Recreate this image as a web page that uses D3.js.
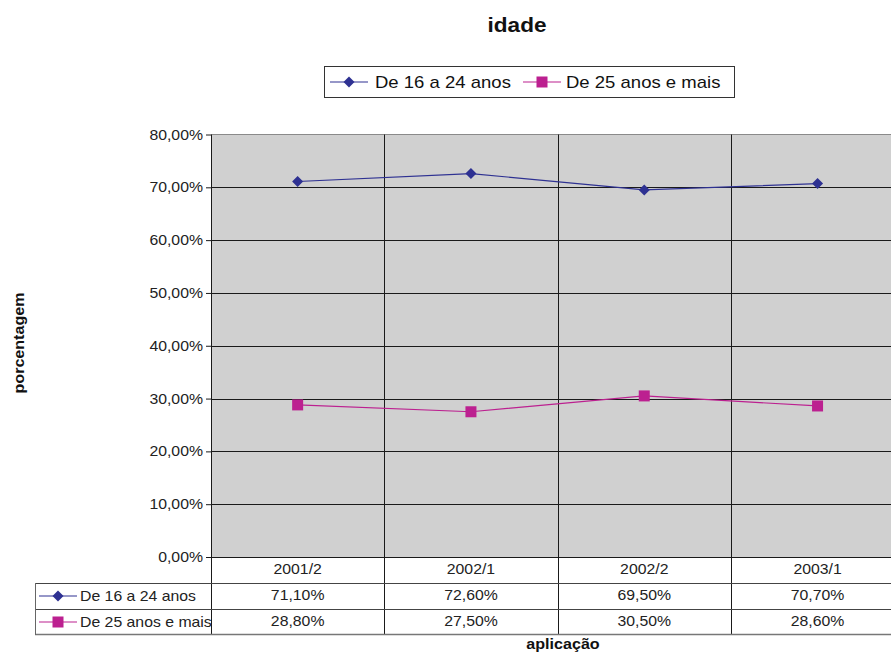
<!DOCTYPE html>
<html>
<head>
<meta charset="utf-8">
<script src="https://cdn.jsdelivr.net/npm/d3@7"></script>
<style>
  html, body { margin: 0; padding: 0; background: #fff; }
  svg { display: block; font-family: "Liberation Sans", Arial, sans-serif; }
</style>
</head>
<body>
<svg id="chart" width="891" height="652"></svg>
<script>
// Age groups by application period
const categories = ["2001/2", "2002/1", "2002/2", "2003/1"];
const seriesNames = ["De 16 a 24 anos", "De 25 anos e mais"];
const young = [71.1, 72.6, 69.5, 70.7];
const older = [28.8, 27.5, 30.5, 28.6];
const yTicks = [0, 10, 20, 30, 40, 50, 60, 70, 80];

const colors = ["#2e3192", "#bc2090"];
const svg = d3.select("#chart");

const plot = { left: 211, right: 903, top: 134.5, bottom: 557 };
const rowH = 26;
const WIDE = 1.13; // horizontal stretch of the lettering

const x = d3.scaleBand().domain(categories).range([plot.left, 211 + 173.3 * 4]).paddingInner(0).paddingOuter(0);
const y = d3.scaleLinear().domain([0, 80]).range([plot.bottom, plot.top]);
const fmt = v => d3.format(".2f")(v).replace(".", ",") + "%";

// text helper: places a label at (tx, ty) widened horizontally
function label(parent, tx, ty, str, opts = {}) {
  const t = parent.append("text")
    .attr("transform", `translate(${tx},${ty}) ${opts.rotate ? "rotate(" + opts.rotate + ")" : ""} scale(${opts.sx || WIDE},1)`)
    .attr("text-anchor", opts.anchor || "start")
    .attr("font-size", opts.size || 14)
    .attr("font-weight", opts.weight || "normal")
    .attr("fill", opts.fill || "#222")
    .text(str);
  return t;
}

// plot background
svg.append("rect")
  .attr("x", plot.left).attr("y", plot.top)
  .attr("width", plot.right - plot.left).attr("height", plot.bottom - plot.top)
  .attr("fill", "#d0d0d0");
svg.append("line")
  .attr("x1", plot.left).attr("x2", plot.right)
  .attr("y1", plot.top).attr("y2", plot.top)
  .attr("stroke", "#8a8a8a").attr("stroke-width", 1);

// horizontal gridlines
svg.append("g").selectAll("line").data(yTicks.filter(t => t > 0 && t < 80)).join("line")
  .attr("x1", plot.left).attr("x2", plot.right)
  .attr("y1", d => Math.round(y(d)) + 0.5).attr("y2", d => Math.round(y(d)) + 0.5)
  .attr("stroke", "#1a1a1a").attr("stroke-width", 1);

// y axis ticks and labels
const yAxis = d3.axisLeft(y).tickValues(yTicks).tickFormat("").tickSize(5);
const gy = svg.append("g").attr("transform", `translate(${plot.left},0)`).call(yAxis);
gy.select(".domain").remove();
gy.selectAll(".tick line").attr("stroke", "#1a1a1a");
const gyl = svg.append("g");
yTicks.forEach(t => label(gyl, plot.left - 8, y(t) + 5, fmt(t), { anchor: "end" }));

// category separators run through the plot and the data table
const tableBottom = plot.bottom + rowH * 3 - 1;
const seps = categories.map(c => x(c)).concat([x(categories[3]) + x.bandwidth()]);
svg.append("g").selectAll("line").data(seps.slice(1)).join("line")
  .attr("x1", d => Math.round(d) + 0.5).attr("x2", d => Math.round(d) + 0.5)
  .attr("y1", plot.top).attr("y2", tableBottom)
  .attr("stroke", "#1a1a1a").attr("stroke-width", 1);
svg.append("line")
  .attr("x1", plot.left + 0.5).attr("x2", plot.left + 0.5)
  .attr("y1", plot.top).attr("y2", tableBottom)
  .attr("stroke", "#1a1a1a");

// baseline
svg.append("line")
  .attr("x1", plot.left - 5).attr("x2", plot.right)
  .attr("y1", plot.bottom + 0.5).attr("y2", plot.bottom + 0.5)
  .attr("stroke", "#1a1a1a");

// data table rows
const tableLeft = 35;
[1, 2].forEach(i => {
  svg.append("line")
    .attr("x1", tableLeft).attr("x2", plot.right)
    .attr("y1", plot.bottom + rowH * i + 0.5).attr("y2", plot.bottom + rowH * i + 0.5)
    .attr("stroke", "#444");
});
svg.append("line")
  .attr("x1", tableLeft).attr("x2", plot.right)
  .attr("y1", tableBottom + 0.5).attr("y2", tableBottom + 0.5)
  .attr("stroke", "#777").attr("stroke-width", 1.6);
svg.append("line")
  .attr("x1", tableLeft + 0.5).attr("x2", tableLeft + 0.5)
  .attr("y1", plot.bottom + rowH).attr("y2", tableBottom + 1)
  .attr("stroke", "#666");

// category labels
const gc = svg.append("g");
categories.forEach(c => label(gc, x(c) + x.bandwidth() / 2, plot.bottom + 17, c, { anchor: "middle" }));

// table values
[young, older].forEach((vals, si) => {
  const g = svg.append("g");
  vals.forEach((v, i) => label(g, x(categories[i]) + x.bandwidth() / 2,
    plot.bottom + rowH * (si + 1) + 17, fmt(v), { anchor: "middle" }));
});

// marker drawing
function marker(g, si, cx, cy) {
  const s = 5.5;
  if (si === 0) {
    g.append("path")
      .attr("d", `M${cx},${cy - s}L${cx + s},${cy}L${cx},${cy + s}L${cx - s},${cy}Z`)
      .attr("fill", colors[0]);
  } else {
    g.append("rect").attr("x", cx - s).attr("y", cy - s)
      .attr("width", 2 * s).attr("height", 2 * s).attr("fill", colors[1]);
  }
}
function legendKey(g, si, x0, cy) {
  g.append("line").attr("x1", x0).attr("x2", x0 + 38)
    .attr("y1", cy).attr("y2", cy).attr("stroke", colors[si]).attr("stroke-width", 1.2);
  marker(g, si, x0 + 19, cy);
}

// table row keys
seriesNames.forEach((name, si) => {
  const cy = plot.bottom + rowH * (si + 1) + 13;
  const g = svg.append("g");
  legendKey(g, si, 39, cy);
  label(g, 80, cy + 5, name);
});

// series lines and markers
const line = d3.line()
  .x((d, i) => x(categories[i]) + x.bandwidth() / 2)
  .y(d => y(d));
[young, older].forEach((vals, si) => {
  svg.append("path").datum(vals).attr("d", line)
    .attr("fill", "none").attr("stroke", colors[si]).attr("stroke-width", 1.2);
  const g = svg.append("g");
  vals.forEach((v, i) => marker(g, si, x(categories[i]) + x.bandwidth() / 2, y(v)));
});

// title
label(svg, 517, 32, "idade", { anchor: "middle", size: 20, weight: "bold", fill: "#111" });

// legend
const lg = svg.append("g");
lg.append("rect").attr("x", 324.5).attr("y", 66.5).attr("width", 410).attr("height", 31)
  .attr("fill", "#fff").attr("stroke", "#333").attr("stroke-width", 1);
legendKey(lg, 0, 330, 82);
label(lg, 375, 88, seriesNames[0], { size: 16.4, fill: "#111" });
legendKey(lg, 1, 523, 82);
label(lg, 566, 88, seriesNames[1], { size: 16.4, fill: "#111" });

// axis titles
label(svg, 24, 343, "porcentagem", { anchor: "middle", size: 14, weight: "bold", fill: "#111", rotate: -90, sx: 1.15 });
label(svg, 563, 649, "aplicação", { anchor: "middle", size: 14, weight: "bold", fill: "#111", sx: 1.15 });
</script>
</body>
</html>
